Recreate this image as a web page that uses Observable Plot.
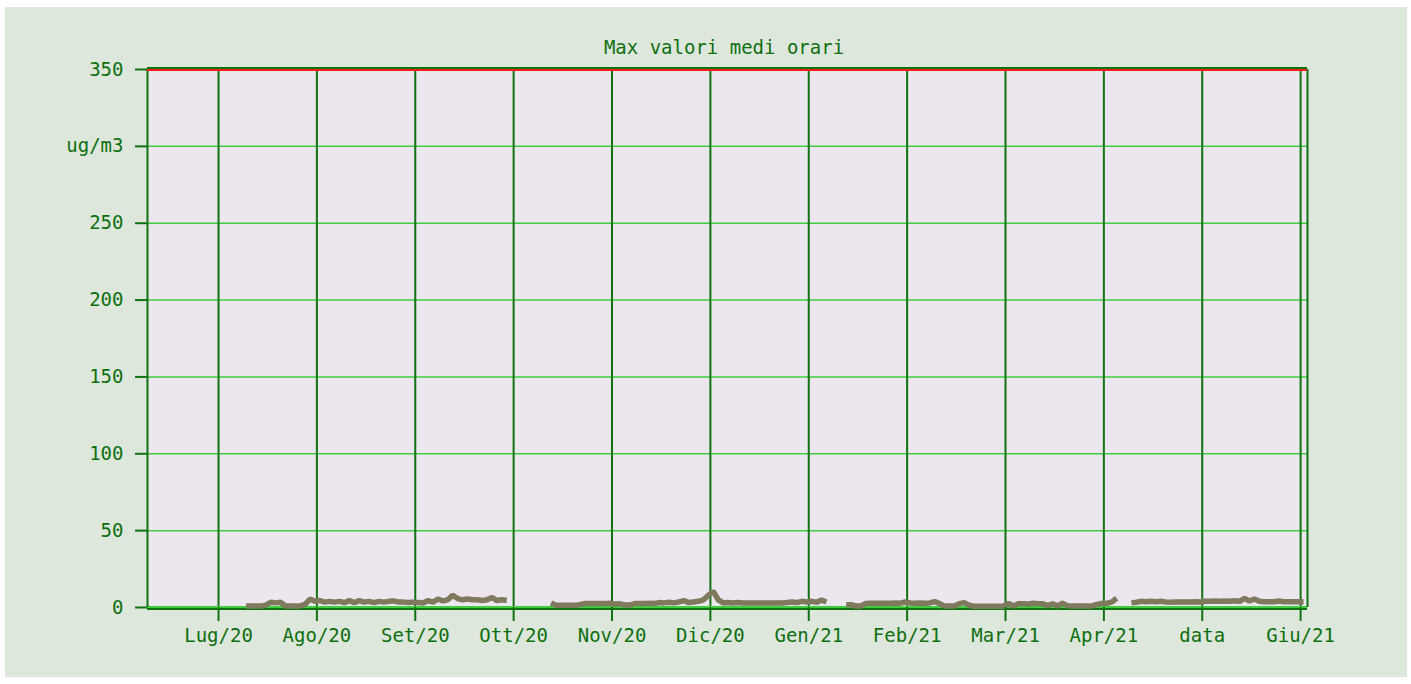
<!DOCTYPE html>
<html><head><meta charset="utf-8">
<script src="https://cdn.jsdelivr.net/npm/d3@7"></script>
<script src="https://cdn.jsdelivr.net/npm/@observablehq/plot@0.6"></script>
<style>
html,body{margin:0;padding:0;background:#ffffff;}
#wrap{position:relative;width:1411px;height:684px;overflow:hidden;}
#bg{position:absolute;left:5px;top:7px;width:1402px;height:670px;background:#dde7dc;}
#title{position:absolute;left:0;top:36px;width:1448px;text-align:center;font-family:"DejaVu Sans Mono",monospace;font-size:19px;line-height:22px;color:#0f6f0f;z-index:2;}
#chart{position:absolute;left:0;top:0;}
</style>
</head><body>
<div id="wrap"><div id="bg"></div><div id="title">Max valori medi orari</div><div id="chart"></div></div>
<script>
// Month tick positions (uniformly spaced) and their labels
const monthTicks = [0,1,2,3,4,5,6,7,8,9,10,11];
const monthLabels = ["Lug/20","Ago/20","Set/20","Ott/20","Nov/20","Dic/20","Gen/21","Feb/21","Mar/21","Apr/21","data","Giu/21"];
const yTicks = [0,50,100,150,200,250,300,350];
const yUnitTick = 300;
const yUnitLabel = "ug/m3";
const limitValue = 350;
const xDomain = [-0.722, 11.07];
// Series sampled every 0.05 month starting at 0.28 (null = no data)
const seriesStart = 0.28;
const seriesStep = 0.05;
const seriesValues = [
1.0,1.0,1.0,1.0,1.5,3.4,3.0,3.4,1.0,1.0,
1.0,1.0,2.0,5.5,4.0,4.5,3.5,4.0,3.5,4.0,
3.2,4.5,3.2,4.5,3.5,4.0,3.2,4.0,3.5,4.0,
4.3,3.5,3.5,3.3,3.5,3.3,3.0,4.5,3.5,5.5,
4.3,5.0,8.0,5.8,5.0,5.5,5.0,5.0,4.5,5.0,
6.5,4.5,5.0,4.5,null,null,null,null,null,null,
null,null,3.0,1.5,1.4,1.4,1.4,1.4,2.0,2.6,
2.6,2.6,2.6,2.6,2.8,2.2,2.4,1.6,1.6,2.6,
2.6,2.6,2.8,2.6,3.2,3.0,3.4,3.0,3.6,4.5,
3.2,3.6,4.0,5.0,8.0,10.5,5.0,3.0,3.2,3.0,
3.2,3.0,3.0,3.0,3.0,3.0,3.0,3.0,3.0,3.0,
3.2,3.6,3.2,4.0,3.6,4.0,3.4,4.8,3.6,null,
null,null,1.8,1.8,1.0,1.0,2.6,2.8,2.8,2.8,
2.8,2.8,3.0,2.8,3.6,3.0,2.8,3.0,2.8,3.0,
3.8,2.5,1.0,1.0,1.0,2.5,3.2,1.5,0.8,0.8,
0.8,0.8,0.8,0.8,0.8,2.6,1.0,2.4,2.4,2.2,
2.8,2.4,2.4,1.2,2.4,1.0,2.8,1.2,1.0,1.0,
1.0,1.0,1.0,2.0,2.6,2.8,3.5,6.0,null,null,
3.0,3.4,4.0,3.8,4.0,3.8,4.0,3.6,3.4,3.6,
3.6,3.6,3.6,3.8,3.6,4.0,4.0,4.2,4.0,4.2,
4.0,4.4,4.0,6.0,4.2,5.5,4.0,3.8,3.8,3.8,
4.2,3.8,3.8,3.8,3.8,3.8
];

const data = seriesValues.map((v, i) => ({x: seriesStart + i * seriesStep, y: v}));

const dark = "#117211";
const textCol = "#0f6f0f";
const light = "#3fcc3f";
const plotBg = "#ece6ee";

const chart = Plot.plot({
  width: 1411,
  height: 684,
  marginLeft: 147,
  marginRight: 104,
  marginTop: 69,
  marginBottom: 77,
  style: {background: "transparent", fontFamily: "DejaVu Sans Mono, monospace", fontSize: "19px"},
  x: {type: "linear", domain: xDomain},
  y: {domain: [0, 350]},
  marks: [
    Plot.frame({fill: plotBg, stroke: null}),
    Plot.ruleY(yTicks.filter(d => d > 0 && d < 350), {stroke: light, strokeWidth: 1.5}),
    Plot.ruleX(monthTicks, {stroke: dark, strokeWidth: 2}),
    Plot.ruleY([0], {stroke: light, strokeWidth: 2, dy: -0.5}),
    Plot.ruleY([0], {stroke: dark, strokeWidth: 2, dy: 1.5}),
    Plot.ruleX([xDomain[0]], {stroke: dark, strokeWidth: 2, y1: 0, y2: 350}),
    Plot.ruleX([xDomain[1]], {stroke: dark, strokeWidth: 2, y1: 0, y2: 350}),
    Plot.ruleY([limitValue], {stroke: dark, strokeWidth: 2, dy: -1.5}),
    Plot.ruleY([limitValue], {stroke: "#ff1a1a", strokeWidth: 2, dy: 0.5}),
    Plot.line(data, {x: "x", y: "y", stroke: "#7f7a5e", strokeWidth: 5.5, strokeLinejoin: "miter", strokeLinecap: "butt"}),
    Plot.axisX(monthTicks, {tickFormat: i => monthLabels[i], tickSize: 14, tickPadding: 7, stroke: dark, strokeWidth: 2, fill: textCol, fontSize: 19, label: null}),
    Plot.axisY(yTicks, {tickFormat: d => d === yUnitTick ? yUnitLabel : String(d), tickSize: 12, tickPadding: 12, stroke: dark, strokeWidth: 2, fill: textCol, fontSize: 19, label: null})
  ]
});
document.getElementById("chart").appendChild(chart);
</script>
</body></html>
